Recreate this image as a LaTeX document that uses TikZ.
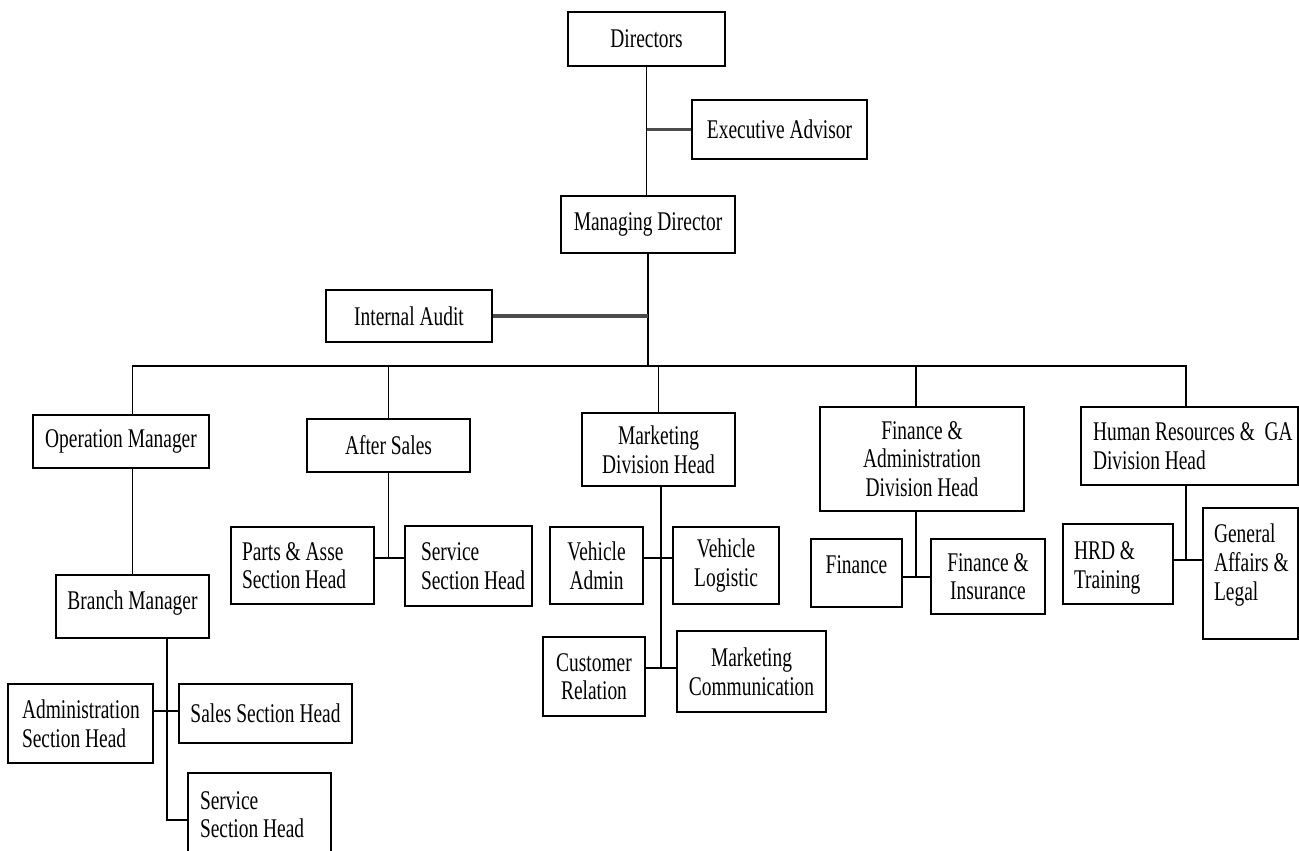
\documentclass[tikz,border=0pt]{standalone}
\usepackage{fontspec}
\setmainfont[FakeStretch=0.72]{Liberation Serif}
\usetikzlibrary{positioning,calc}
\tikzset{unit/.style={draw, rectangle, line width=0.9pt, inner sep=0pt, align=center, font=\fontsize{13.5}{14.3}\selectfont}}
\tikzstyle{lunit}=[unit, align=flush left]
\tikzstyle{lnk}=[line width=0.7pt]
\tikzstyle{heavy}=[line width=1.6pt, black!70]

\begin{document}
\begin{tikzpicture}[x=0.5pt, y=-0.5pt]
\useasboundingbox (0,0) rectangle (1299,850);
% top of the chart
\node[unit, minimum width=78.5pt, minimum height=27pt] (dir) at (646.5,39) {Directors};
\node[unit, minimum width=87.5pt, minimum height=29.5pt] (exa) at (779.5,129.5) {Executive Advisor};
\node[unit, minimum width=87pt, minimum height=28.5pt] (md) at (648,224.5) {Managing Director};
\node[unit, minimum width=83pt, minimum height=26pt] (ia) at (409,316) {Internal Audit};
% divisions
\node[unit, minimum width=88pt, minimum height=26.5pt] (om) at (121,441.5) {Operation Manager};
\node[unit, minimum width=81.5pt, minimum height=26.5pt] (as) at (388.5,445.5) {After Sales};
\node[unit, minimum width=76.5pt, minimum height=36.5pt] (mkt) at (658.5,449.5) {Marketing\\Division Head};
\node[unit, minimum width=102pt, minimum height=52pt] (fad) at (922,459) {Finance \&\\Administration\\Division Head};
\node[lunit, text width=96.5pt, inner xsep=6pt, minimum height=39pt] (hr) at (1189.5,446) {\mbox{Human Resources \& \ GA}\\\mbox{Division Head}};
% sections
\node[lunit, text width=60.5pt, inner xsep=5.5pt, minimum height=38.5pt] (pa) at (302.5,565.5) {\mbox{Parts \& Asse}\\\mbox{Section Head}};
\node[lunit, text width=47.5pt, inner xsep=8pt, minimum height=40pt] (ssa) at (468.5,566) {Service\\\mbox{Section Head}};
\node[unit, minimum width=46.5pt, minimum height=38.5pt] (va) at (596.5,565.5) {Vehicle\\Admin};
\node[unit, minimum width=53pt, minimum height=38.5pt] (vl) at (726,565.5) {Vehicle\\Logistic};
\node[unit, minimum width=51pt, minimum height=39.5pt] (cr) at (594,676.5) {Customer\\Relation};
\node[unit, minimum width=74.5pt, minimum height=40.5pt] (mc) at (751.5,671.5) {Marketing\\Communication};
\node[unit, minimum width=45.5pt, minimum height=34pt, text depth=8pt] (fn) at (856.5,573) {Finance};
\node[unit, minimum width=57pt, minimum height=37.5pt] (fi) at (988,576.5) {Finance \&\\Insurance};
\node[lunit, text width=44pt, inner xsep=5.5pt, minimum height=40pt, text depth=13pt] (hrd) at (1118,564) {\mbox{HRD \&}\\Training};
\node[lunit, text width=36.5pt, inner xsep=5.5pt, minimum height=65.5pt, text depth=40pt] (ga) at (1250.5,573.5) {General\\\mbox{Affairs \&}\\Legal};
% branch
\node[unit, minimum width=76.5pt, minimum height=31.5pt, text depth=6.5pt] (bm) at (132.5,606.5) {Branch Manager};
\node[lunit, text width=58.5pt, inner xsep=7pt, minimum height=39.5pt] (adm) at (80.5,723.5) {\mbox{Administration}\\\mbox{Section Head}};
\node[unit, minimum width=86.5pt, minimum height=29.5pt] (sal) at (265.5,713.5) {Sales Section Head};
\node[lunit, text width=59.5pt, inner xsep=6pt, minimum height=41.5pt] (ssb) at (259.5,814.5) {Service\\\mbox{Section Head}};

% junction points
\coordinate (bus) at (644,366);
\coordinate (asj) at (388.5,558);
\coordinate (mkj) at (661,558);
\coordinate (mkk) at (661,668);
\coordinate (fj) at (916,577);
\coordinate (hj) at (1186,560);
\coordinate (bj) at (167,820);
\coordinate (bk) at (167,711);

\draw[lnk] (dir.south) -- (dir.south |- md.north);
\draw[heavy] (exa.west) -- (exa.west -| dir.south);
\draw[lnk] (md.south) -- (md.south |- bus);
\draw[heavy] (ia.east) -- (ia.east -| md.south);
\draw[lnk] (om.north -| bm.north) |- (bus) -| (hr.north -| hj);
\foreach \n in {as,mkt}
  \draw[lnk] (\n.north -| \n.south) -- (\n.north |- bus);
\draw[lnk] (fad.north -| fj) -- (fj |- bus);

\draw[lnk] (as.south) -- (asj);
\draw[lnk] (pa.east |- asj) -- (ssa.west |- asj);
\draw[lnk] (mkt.south -| mkk) -- (mkk);
\draw[lnk] (va.east |- mkj) -- (vl.west |- mkj);
\draw[lnk] (cr.east |- mkk) -- (mc.west |- mkk);
\draw[lnk] (fad.south -| fj) -- (fj);
\draw[lnk] (fn.east |- fj) -- (fi.west |- fj);
\draw[lnk] (hr.south -| hj) -- (hj);
\draw[lnk] (hrd.east |- hj) -- (ga.west |- hj);

\draw[lnk] (om.south -| bm.north) -- (bm.north);
\draw[lnk] (bm.south -| bj) -- (bj) -- (ssb.west |- bj);
\draw[lnk] (adm.east |- bk) -- (sal.west |- bk);
\end{tikzpicture}
\end{document}
